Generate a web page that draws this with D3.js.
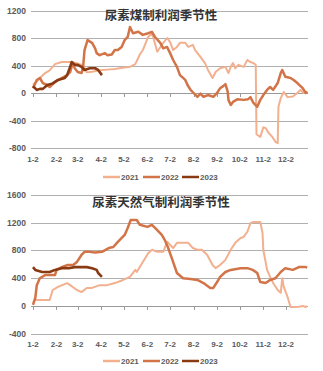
<!DOCTYPE html>
<html><head><meta charset="utf-8">
<script src="https://cdn.jsdelivr.net/npm/d3@7"></script>
<style>
html,body{margin:0;padding:0;background:#fff;}
svg{display:block;}
</style></head>
<body>
<svg id="c" width="323" height="371"></svg>
<script>
// ---------- data ----------
const monthTicks = ["01-02","02-02","03-02","04-02","05-02","06-02","07-02","08-02","09-02","10-02","11-02","12-02"];
const monthLabels = ["1-2","2-2","3-2","4-2","5-2","6-2","7-2","8-2","9-2","10-2","11-2","12-2"];
const years = ["2021","2022","2023"];
const coalTitle = "尿素煤制利润季节性";
const gasTitle = "尿素天然气制利润季节性";
const coalTicks = [-800,-400,0,400,800,1200];
const gasTicks = [-400,0,400,800,1200,1600];

const coal2021 = [["01-02",116],["01-07",170],["01-11",218],["01-18",290],["01-24",330],["01-31",420],["02-09",450],["02-20",450],["02-26",440],["03-02",430],["03-09",400],["03-14",300],["03-21",310],["03-31",330],["04-10",340],["04-20",350],["05-03",370],["05-10",380],["05-17",420],["05-23",560],["05-27",625],["06-03",815],["06-08",870],["06-10",800],["06-15",600],["06-23",730],["06-28",800],["07-02",740],["07-06",625],["07-11",670],["07-15",730],["07-22",730],["07-26",670],["08-01",700],["08-04",625],["08-11",525],["08-17",435],["08-21",335],["08-27",218],["08-31",305],["09-06",360],["09-13",380],["09-17",290],["09-20",380],["09-23",435],["09-26",360],["09-30",410],["10-07",380],["10-12",480],["10-16",450],["10-20",435],["10-23",410],["10-24",-600],["10-29",-640],["11-02",-500],["11-05",-510],["11-09",-580],["11-14",-640],["11-18",-710],["11-21",-730],["11-22",-200],["11-25",-75],["11-29",15],["12-04",-60],["12-11",-50],["12-17",0],["12-21",45],["12-25",0],["12-30",10]];
const coal2022 = [["01-02",70],["01-07",190],["01-11",218],["01-15",145],["01-20",120],["01-24",87],["01-31",160],["02-09",218],["02-16",260],["02-20",305],["02-22",380],["02-24",435],["02-26",360],["03-02",305],["03-07",290],["03-09",360],["03-11",625],["03-15",770],["03-21",730],["03-25",650],["03-27",580],["03-31",550],["04-07",580],["04-10",550],["04-16",560],["04-20",625],["04-24",625],["04-29",670],["05-03",770],["05-07",815],["05-10",960],["05-14",870],["05-21",890],["05-27",845],["06-03",870],["06-08",890],["06-12",815],["06-19",730],["06-23",650],["06-28",670],["07-02",580],["07-06",480],["07-11",380],["07-15",260],["07-22",190],["07-25",116],["07-29",45],["08-02",0],["08-07",-55],["08-11",-10],["08-15",-55],["08-21",-30],["08-28",-55],["09-02",0],["09-06",70],["09-10",100],["09-13",130],["09-16",20],["09-17",-100],["09-20",-175],["09-23",-130],["09-29",-90],["10-07",-100],["10-13",-90],["10-16",-60],["10-20",-145],["10-25",-200],["10-29",-100],["11-02",-30],["11-07",45],["11-11",87],["11-15",45],["11-21",145],["11-25",290],["11-27",335],["12-01",235],["12-08",218],["12-12",190],["12-17",145],["12-24",70],["12-28",0],["12-30",20]];
const coal2023 = [["01-02",100],["01-07",45],["01-11",60],["01-15",60],["01-21",116],["01-28",140],["02-04",190],["02-13",218],["02-16",260],["02-20",380],["02-22",450],["02-26",410],["03-02",410],["03-07",380],["03-11",335],["03-18",360],["03-25",360],["03-29",335],["04-03",260]];

const gas2021 = [["01-02",43],["01-05",86],["01-24",86],["01-28",230],["02-04",275],["02-16",330],["02-20",300],["03-01",230],["03-07",200],["03-14",260],["03-21",260],["03-31",300],["04-10",300],["04-20",330],["05-01",375],["05-10",420],["05-17",520],["05-19",490],["05-27",635],["06-03",760],["06-08",810],["06-15",780],["06-23",780],["06-28",925],["07-06",835],["07-11",910],["07-19",910],["07-26",910],["08-01",835],["08-07",810],["08-13",810],["08-20",735],["08-27",590],["08-31",545],["09-06",590],["09-13",665],["09-20",810],["09-26",910],["10-03",980],["10-07",995],["10-12",1070],["10-16",1195],["10-20",1210],["10-29",1210],["11-01",1050],["11-02",810],["11-07",520],["11-11",420],["11-15",330],["11-21",230],["11-25",190],["11-27",400],["11-29",275],["12-04",130],["12-08",-15],["12-12",-15],["12-19",-10],["12-24",0],["12-28",-15],["12-30",0]];
const gas2022 = [["01-02",15],["01-05",115],["01-07",300],["01-11",400],["01-18",445],["01-31",445],["02-02",520],["02-09",560],["02-16",590],["02-24",590],["03-01",635],["03-07",735],["03-11",780],["03-18",780],["03-25",770],["04-03",780],["04-12",835],["04-18",850],["04-24",925],["05-03",1025],["05-07",1125],["05-11",1240],["05-19",1240],["05-23",1170],["06-02",1140],["06-08",1170],["06-15",1095],["06-21",1025],["06-25",950],["06-29",850],["07-05",665],["07-11",475],["07-19",400],["07-29",390],["08-07",375],["08-15",330],["08-24",260],["08-28",260],["09-02",345],["09-06",420],["09-13",490],["09-20",520],["10-03",545],["10-12",545],["10-19",520],["10-25",475],["10-29",345],["11-05",330],["11-11",375],["11-18",400],["11-25",490],["12-01",545],["12-11",520],["12-19",560],["12-28",560],["12-30",555]];
const gas2023 = [["01-02",560],["01-05",520],["01-14",490],["01-24",490],["01-31",520],["02-09",545],["02-18",545],["02-26",560],["03-07",560],["03-14",560],["03-21",545],["03-27",520],["03-29",475],["04-03",420]];

const colors = ["#F2B08E","#D27448","#8A3A12"];
const widths = [2,2.5,2.6];

// ---------- drawing ----------
const parse = d3.timeParse("%m-%d");
const svg = d3.select("#c");

function drawChart(cfg){
  const g = svg.append("g");
  const x = d3.scaleTime().domain([parse("01-02"), parse("12-31")]).range([33, 308]);
  const y = d3.scaleLinear().domain([cfg.ticks[0], cfg.ticks[cfg.ticks.length-1]]).range([cfg.bottom, cfg.top]);

  // gridlines
  g.selectAll(".grid").data(cfg.ticks).join("line")
    .attr("x1", 31).attr("x2", 308)
    .attr("y1", d => Math.round(y(d))+0.5).attr("y2", d => Math.round(y(d))+0.5)
    .attr("stroke", d => d===0 ? "#9a9a9a" : "#b0b0b0").attr("stroke-width", 1);

  // y labels
  g.selectAll(".yl").data(cfg.ticks).join("text")
    .attr("x", 26).attr("y", d => y(d)+3)
    .attr("text-anchor","end").attr("font-family","Liberation Sans, Arial, sans-serif")
    .attr("font-size", 8.5).attr("font-weight","bold").attr("fill","#5a5a5a")
    .text(d => d);

  // zero axis ticks
  const y0 = Math.round(y(0))+0.5;
  g.selectAll(".tk").data(monthTicks).join("line")
    .attr("x1", d => Math.round(x(parse(d)))+0.5).attr("x2", d => Math.round(x(parse(d)))+0.5)
    .attr("y1", y0).attr("y2", y0+3.5)
    .attr("stroke","#9a9a9a");

  // x labels
  g.selectAll(".xl").data(monthTicks).join("text")
    .attr("x", d => x(parse(d))).attr("y", cfg.xLabelY)
    .attr("text-anchor","middle").attr("font-family","Liberation Sans, Arial, sans-serif")
    .attr("font-size", 8).attr("font-weight","bold").attr("fill","#5a5a5a")
    .text((d,i) => monthLabels[i]);

  // lines
  const line = d3.line().x(d => x(parse(d[0]))).y(d => y(d[1]));
  cfg.series.forEach((s,i) => {
    g.append("path").datum(s).attr("d", line)
      .attr("fill","none").attr("stroke", colors[i]).attr("stroke-width", widths[i])
      .attr("stroke-linejoin","round");
  });

  // title
  g.append("text").attr("x", 161).attr("y", cfg.titleY)
    .attr("text-anchor","middle").attr("font-family","Noto Sans CJK SC, sans-serif")
    .attr("font-size", 12.5).attr("font-weight","bold").attr("fill","#333333")
    .text(cfg.title);

  // legend
  const lg = g.append("g");
  const lx = [103, 143, 182];
  years.forEach((yr,i) => {
    lg.append("line").attr("x1", lx[i]).attr("x2", lx[i]+17)
      .attr("y1", cfg.legendY).attr("y2", cfg.legendY)
      .attr("stroke", colors[i]).attr("stroke-width", 2.5);
    lg.append("text").attr("x", lx[i]+18).attr("y", cfg.legendY+3)
      .attr("font-family","Liberation Sans, Arial, sans-serif").attr("font-size", 8)
      .attr("font-weight","bold").attr("fill","#5a5a5a").text(yr);
  });
}

drawChart({ticks: coalTicks, top: 10.5, bottom: 148, xLabelY: 162, legendY: 177, titleY: 20, title: coalTitle, series: [coal2021, coal2022, coal2023]});
drawChart({ticks: gasTicks, top: 195, bottom: 333.7, xLabelY: 347, legendY: 361, titleY: 207, title: gasTitle, series: [gas2021, gas2022, gas2023]});
</script>
</body></html>
